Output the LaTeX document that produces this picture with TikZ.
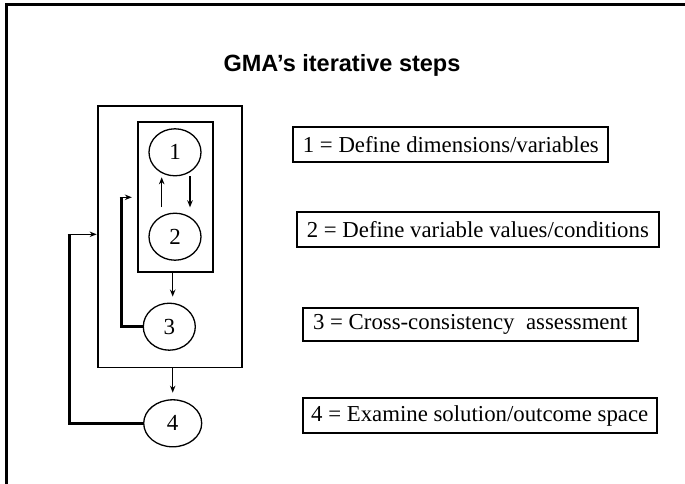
\documentclass[tikz,border=0pt]{standalone}
\usepackage{fontspec}
\setmainfont{Liberation Serif}
\newfontfamily\headfont{Liberation Sans}
\usetikzlibrary{shapes.geometric,arrows.meta,calc}

\tikzset{
  stepnode/.style={ellipse, draw, line width=1.3pt, inner sep=0pt,
    minimum width=52pt, minimum height=47pt,
    font=\fontsize{23}{27}\selectfont},
  groupbox/.style={rectangle, draw, line width=1.7pt, inner sep=0pt},
  legendbox/.style={rectangle, draw, line width=2pt, inner sep=0pt,
    minimum height=35pt, font=\fontsize{22.8}{27}\selectfont},
  arr/.style={line width=1.3pt, -{Stealth[length=7pt,width=5.5pt]}},
  feedback/.style={line width=3pt},
}

\begin{document}
\begin{tikzpicture}[x=1pt, y=-1pt]
  \useasboundingbox (0,0) rectangle (685,484);

  % slide frame (runs off the page on the right and at the bottom)
  \draw[line width=2.7pt] (700,4.7) -| (6.3,500);

  % title
  \node[anchor=base, font=\headfont\bfseries\fontsize{23.5}{28}\selectfont]
    (title) at (342,72) {GMA’s iterative steps};

  % nested groups
  \node[groupbox, minimum width=143.4pt, minimum height=261.3pt] (outer) at (170,236.7) {};
  \node[groupbox, minimum width=74.4pt, minimum height=149.4pt] (inner) at (175.5,197) {};

  % steps
  \node[stepnode] (s1) at (175,152.3) {1};
  \node[stepnode] (s2) at (175,236.7) {2};
  \node[stepnode] (s3) at (169.3,326.7) {3};
  \node[stepnode, minimum width=58pt] (s4) at (172.7,423.3) {4};

  % iteration between 1 and 2
  \draw[arr] ($(s1)+(-13.3,54.7)$) -- ($(s1)+(-13.3,25)$);
  \draw[arr] ($(s1)+(15,23.7)$) -- ($(s1)+(15,55)$);

  % forward arrows
  \draw[arr, shorten >=6pt] ([xshift=-2.8pt]inner.south) -- ([xshift=-2.8pt]inner.south |- s3.north);
  \draw[arr, shorten >=6.5pt] (outer.south -| s4.north) -- (s4.north);

  % feedback from 3 into the inner group
  \coordinate (l3) at (121,197.3);
  \draw[feedback] (s3.west) -| (l3);
  \draw[arr, shorten >=5.6pt] ([xshift=-1.5pt]l3) -- (l3 -| inner.west);

  % feedback from 4 into the outer group
  \coordinate (l4) at (69,234.3);
  \draw[feedback] (s4.west) -| (l4);
  \draw[arr, shorten >=0.8pt] ([xshift=-1.5pt]l4) -- (l4 -| outer.west);

  % legend
  \node[legendbox, minimum width=315pt] (b1) at (450.8,144.2) {1 = Define dimensions/variables};
  \node[legendbox, minimum width=362.3pt] (b2) at (477.8,229.2) {2 = Define variable values/conditions};
  \node[legendbox, minimum width=335pt, minimum height=33pt] (b3) at (470.2,324.2) {3 = Cross-consistency\ \ assessment};
  \node[legendbox, minimum width=354pt] (b4) at (479.7,415.8) {4 = Examine solution/outcome space};
\end{tikzpicture}
\end{document}
